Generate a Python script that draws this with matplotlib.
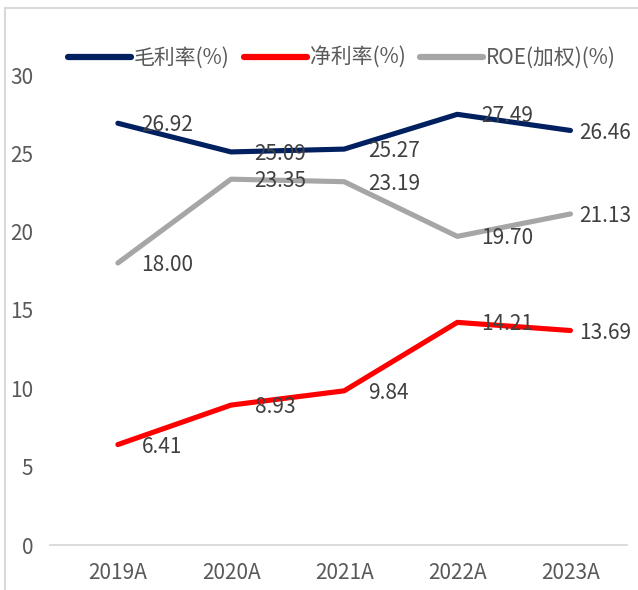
import matplotlib
matplotlib.use("Agg")
import matplotlib.pyplot as plt
from matplotlib.patches import Rectangle

plt.rcParams['font.family'] = ['Noto Sans CJK SC', 'DejaVu Sans']

years = ["2019A", "2020A", "2021A", "2022A", "2023A"]
gross_margin = [26.92, 25.09, 25.27, 27.49, 26.46]
net_margin = [6.41, 8.93, 9.84, 14.21, 13.69]
roe = [18.00, 23.35, 23.19, 19.70, 21.13]

series = [
    ("毛利率(%)", gross_margin, "#002060"),
    ("净利率(%)", net_margin, "#FF0000"),
    ("ROE(加权)(%)", roe, "#A6A6A6"),
]

W, H = 638, 590
fig = plt.figure(figsize=(W / 100, H / 100), dpi=100)
ax = fig.add_axes([50 / W, 45 / H, 577 / W, 470 / H])

# outer chart border (light gray)
fig.patches.append(Rectangle((5 / W, -0.1), 1.2, 1.1 - 8 / H + 0.0,
                             transform=fig.transFigure, fill=False,
                             edgecolor="#D9D9D9", linewidth=1.5))

x = list(range(len(years)))
for name, vals, col in series:
    ax.plot(x, vals, color=col, linewidth=3.7, label=name,
            solid_capstyle="round", solid_joinstyle="round")
    for i, v in enumerate(vals):
        off = 17 if i < len(vals) - 1 else 6
        ax.annotate(f"{v:.2f}", (i, v), xytext=(off, -1.5),
                    textcoords="offset points", ha="left", va="center",
                    fontsize=15, color="#404040")

ax.set_xlim(-0.6, 4.5)
ax.set_ylim(0, 30)
ax.set_yticks([0, 5, 10, 15, 20, 25, 30])
ax.set_xticks(x)
ax.set_xticklabels(years)
for s in ["left", "right", "top"]:
    ax.spines[s].set_visible(False)
ax.spines["bottom"].set_color("#D9D9D9")
ax.spines["bottom"].set_linewidth(1.3)
ax.tick_params(axis="y", length=0, pad=12, labelsize=15, labelcolor="#595959")
ax.tick_params(axis="x", length=0, pad=12, labelsize=15, labelcolor="#595959")

fig.legend(loc="center", bbox_to_anchor=(342 / W, 1 - 58 / H), ncol=3,
           frameon=False, fontsize=15, handlelength=3.0, handletextpad=0.15,
           columnspacing=0.7, labelcolor="#595959")
for line in fig.legends[0].get_lines():
    line.set_linewidth(4.5)

fig.savefig("out.png", dpi=100)
